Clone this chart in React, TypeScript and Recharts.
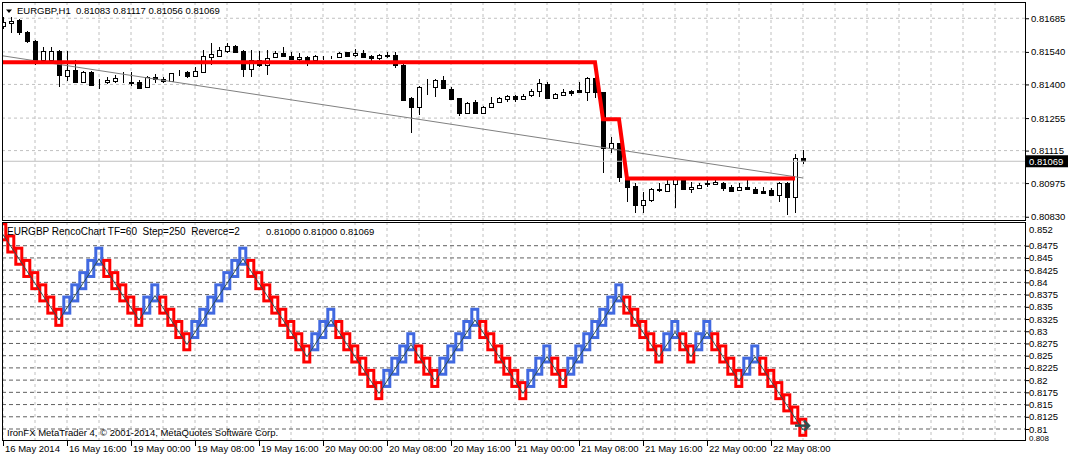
import React from "react";
import {
  ComposedChart,
  Bar,
  Line,
  XAxis,
  YAxis,
  CartesianGrid,
  ReferenceLine,
  ReferenceDot,
} from "recharts";

const FONT = "'Liberation Sans', Arial, sans-serif";
const RED = "#ff0000";
const BLUE = "#4169e1";
const ZIGZAG = "#2f4f4f";

// EURGBP H1 candles, bar 0 = 16 May 08:00
const opens = [
  0.81652, 0.81664, 0.81678, 0.81625, 0.81589, 0.81505, 0.81505, 0.81546, 0.81436, 0.81462,
  0.81412, 0.81455, 0.81413, 0.81409, 0.81416, 0.81427, 0.81412, 0.81412, 0.81388, 0.81431,
  0.81422, 0.81416, 0.81451, 0.81455, 0.81436, 0.81455, 0.8152, 0.81523, 0.81546, 0.81566,
  0.81544, 0.81465, 0.81505, 0.81484, 0.81517, 0.81534, 0.81523, 0.81508, 0.8152, 0.81505,
  0.81516, 0.81513, 0.81517, 0.81541, 0.81527, 0.81534, 0.81523, 0.81513, 0.81524, 0.81527,
  0.81484, 0.8134, 0.81302, 0.8139, 0.8139, 0.81419, 0.81379, 0.8134, 0.81278, 0.81326,
  0.81278, 0.81302, 0.81326, 0.81336, 0.8135, 0.81336, 0.81355, 0.81373, 0.81402, 0.8134,
  0.81355, 0.81373, 0.81376, 0.81369, 0.81428, 0.81367, 0.81125, 0.81146, 0.80991, 0.80962,
  0.8088, 0.80902, 0.80947, 0.80942, 0.80971, 0.80988, 0.80948, 0.80952, 0.80973, 0.80971,
  0.80977, 0.80957, 0.80945, 0.80957, 0.80948, 0.80942, 0.80945, 0.80924, 0.80977, 0.80914,
  0.81083,
];
const highs = [
  0.81691, 0.81692, 0.81681, 0.8163, 0.81592, 0.81563, 0.81563, 0.81549, 0.81546, 0.81505,
  0.81458, 0.81458, 0.81422, 0.81433, 0.81441, 0.81455, 0.81455, 0.81419, 0.81436, 0.81445,
  0.81433, 0.81449, 0.81462, 0.81459, 0.81477, 0.81549, 0.81577, 0.81563, 0.81577, 0.8157,
  0.81549, 0.81549, 0.81544, 0.81549, 0.81546, 0.81563, 0.81541, 0.81537, 0.81523, 0.81527,
  0.81523, 0.81521, 0.8154, 0.81541, 0.81551, 0.81549, 0.81527, 0.81531, 0.81541, 0.81541,
  0.81488, 0.81347, 0.81393, 0.81422, 0.81422, 0.81436, 0.81388, 0.81342, 0.81326, 0.81333,
  0.81307, 0.81347, 0.81347, 0.81355, 0.81355, 0.81359, 0.81379, 0.81422, 0.81412, 0.81362,
  0.81379, 0.81376, 0.81412, 0.81433, 0.81441, 0.81369, 0.81175, 0.81148, 0.80996, 0.80974,
  0.80938, 0.80952, 0.80975, 0.80988, 0.81002, 0.80991, 0.80981, 0.80975, 0.80988, 0.80988,
  0.80981, 0.80967, 0.80977, 0.80988, 0.80959, 0.80959, 0.80952, 0.80981, 0.80981, 0.811,
  0.81117,
];
const lows = [
  0.81639, 0.8162, 0.81613, 0.81577, 0.81484, 0.81498, 0.81498, 0.8139, 0.81416, 0.81405,
  0.81411, 0.81393, 0.81379, 0.81402, 0.81405, 0.81405, 0.81393, 0.81383, 0.81386, 0.81405,
  0.81408, 0.81415, 0.81436, 0.81427, 0.81433, 0.81454, 0.81484, 0.8152, 0.81534, 0.81534,
  0.81433, 0.81433, 0.81477, 0.81441, 0.81513, 0.8152, 0.81505, 0.81498, 0.8148, 0.81491,
  0.81505, 0.81508, 0.81514, 0.8152, 0.8152, 0.81513, 0.81502, 0.81505, 0.81515, 0.8147,
  0.81329, 0.81191, 0.81268, 0.81355, 0.81345, 0.81379, 0.81333, 0.81264, 0.81273, 0.81273,
  0.81276, 0.81297, 0.81321, 0.81326, 0.81326, 0.81333, 0.81347, 0.81347, 0.81339, 0.81336,
  0.8135, 0.8135, 0.81367, 0.8133, 0.8134, 0.81017, 0.81103, 0.80981, 0.80895, 0.80847,
  0.80845, 0.80895, 0.80936, 0.80938, 0.80866, 0.80945, 0.80931, 0.80949, 0.80959, 0.80967,
  0.80942, 0.80938, 0.80942, 0.80945, 0.80931, 0.80928, 0.80919, 0.80895, 0.80837, 0.80847,
  0.81056,
];
const closes = [
  0.81669, 0.81673, 0.81625, 0.81589, 0.81502, 0.81544, 0.81544, 0.81441, 0.81462, 0.81412,
  0.81455, 0.81398, 0.81415, 0.81419, 0.81429, 0.81428, 0.81405, 0.81386, 0.81433, 0.81422,
  0.81415, 0.81448, 0.81451, 0.81436, 0.81459, 0.81523, 0.8153, 0.81549, 0.81566, 0.81541,
  0.81465, 0.81505, 0.81484, 0.81513, 0.81534, 0.81523, 0.81508, 0.8152, 0.81505, 0.81523,
  0.81517, 0.81513, 0.81534, 0.81523, 0.81537, 0.8152, 0.81513, 0.81527, 0.81525, 0.81484,
  0.81333, 0.81302, 0.81388, 0.8139, 0.81419, 0.81383, 0.81337, 0.81278, 0.81321, 0.81278,
  0.81302, 0.81321, 0.8134, 0.8135, 0.81336, 0.8135, 0.81373, 0.81405, 0.8134, 0.81359,
  0.81369, 0.81364, 0.81369, 0.81427, 0.81367, 0.81125, 0.81146, 0.81, 0.80959, 0.8088,
  0.80902, 0.80948, 0.80948, 0.80971, 0.80991, 0.80948, 0.80957, 0.80967, 0.80974, 0.80981,
  0.80952, 0.80942, 0.80957, 0.80948, 0.80933, 0.80933, 0.80924, 0.80974, 0.80914, 0.81082,
  0.81069,
];

// thick red renko level line on the price chart
const signalLevels = [0.81495, 0.8125, 0.80995];
const signalFirstBar = [0, 75, 78];
const signalLastBar = [74, 77, 99];

// hand drawn trend line
const trendStart = { bar: 0, price: 0.81523 };
const trendEnd = { bar: 100, price: 0.80997 };

const lastPrice = 0.81069;

// renko bricks (top of each brick), 1 = up brick
const renkoTop = [
  0.8525, 0.85, 0.8475, 0.845, 0.8425, 0.84, 0.8375, 0.835, 0.8375, 0.84,
  0.8425, 0.845, 0.8475, 0.845, 0.8425, 0.84, 0.8375, 0.835, 0.8375, 0.84,
  0.8375, 0.835, 0.8325, 0.83, 0.8325, 0.835, 0.8375, 0.84, 0.8425, 0.845,
  0.8475, 0.845, 0.8425, 0.84, 0.8375, 0.835, 0.8325, 0.83, 0.8275, 0.83,
  0.8325, 0.835, 0.8325, 0.83, 0.8275, 0.825, 0.8225, 0.82, 0.8225, 0.825,
  0.8275, 0.83, 0.8275, 0.825, 0.8225, 0.825, 0.8275, 0.83, 0.8325, 0.835,
  0.8325, 0.83, 0.8275, 0.825, 0.8225, 0.82, 0.8225, 0.825, 0.8275, 0.825,
  0.8225, 0.825, 0.8275, 0.83, 0.8325, 0.835, 0.8375, 0.84, 0.8375, 0.835,
  0.8325, 0.83, 0.8275, 0.83, 0.8325, 0.83, 0.8275, 0.83, 0.8325, 0.83,
  0.8275, 0.825, 0.8225, 0.825, 0.8275, 0.825, 0.8225, 0.82, 0.8175, 0.815,
  0.8125,
];
const renkoUp = [
  0, 0, 0, 0, 0, 0, 0, 0, 1, 1,
  1, 1, 1, 0, 0, 0, 0, 0, 1, 1,
  0, 0, 0, 0, 1, 1, 1, 1, 1, 1,
  1, 0, 0, 0, 0, 0, 0, 0, 0, 1,
  1, 1, 0, 0, 0, 0, 0, 0, 1, 1,
  1, 1, 0, 0, 0, 1, 1, 1, 1, 1,
  0, 0, 0, 0, 0, 0, 1, 1, 1, 0,
  0, 1, 1, 1, 1, 1, 1, 1, 0, 0,
  0, 0, 0, 1, 1, 0, 0, 1, 1, 0,
  0, 0, 0, 1, 1, 0, 0, 0, 0, 0,
  0,
];
const renkoLine = [
  0.8498, 0.8473, 0.8448, 0.8423, 0.8398, 0.8373, 0.8348, 0.8323, 0.8348, 0.8373,
  0.8398, 0.8423, 0.8448, 0.8423, 0.8398, 0.8373, 0.8348, 0.8323, 0.8348, 0.8373,
  0.8348, 0.8323, 0.8298, 0.8273, 0.8298, 0.8323, 0.8348, 0.8373, 0.8398, 0.8423,
  0.8448, 0.8423, 0.8398, 0.8373, 0.8348, 0.8323, 0.8298, 0.8273, 0.8248, 0.8273,
  0.8298, 0.8323, 0.8298, 0.8273, 0.8248, 0.8223, 0.8198, 0.8173, 0.8198, 0.8223,
  0.8248, 0.8273, 0.8248, 0.8223, 0.8198, 0.8223, 0.8248, 0.8273, 0.8298, 0.8323,
  0.8298, 0.8273, 0.8248, 0.8223, 0.8198, 0.8173, 0.8198, 0.8223, 0.8248, 0.8223,
  0.8198, 0.8223, 0.8248, 0.8273, 0.8298, 0.8323, 0.8348, 0.8373, 0.8348, 0.8323,
  0.8298, 0.8273, 0.8248, 0.8273, 0.8298, 0.8273, 0.8248, 0.8273, 0.8298, 0.8273,
  0.8248, 0.8223, 0.8198, 0.8223, 0.8248, 0.8223, 0.8198, 0.8173, 0.8148, 0.8123,
  0.8098,
];

const priceTicks = [0.8083, 0.80975, 0.81115, 0.81255, 0.814, 0.8154, 0.81685];
const renkoTicks = [
  0.8475, 0.845, 0.8425, 0.84, 0.8375, 0.835, 0.8325, 0.83, 0.8275, 0.825,
  0.8225, 0.82, 0.8175, 0.815, 0.8125, 0.81,
];
const renkoTickLabels = [
  "0.8475", "0.845", "0.8425", "0.84", "0.8375", "0.835", "0.8325", "0.83", "0.8275", "0.825",
  "0.8225", "0.82", "0.8175", "0.815", "0.8125", "0.81",
];
const timeBars = [0, 8, 16, 24, 32, 40, 48, 56, 64, 72, 80, 88, 96];
const timeLabels = [
  "16 May 2014", "16 May 16:00", "19 May 00:00", "19 May 08:00", "19 May 16:00",
  "20 May 00:00", "20 May 08:00", "20 May 16:00", "21 May 00:00", "21 May 08:00",
  "21 May 16:00", "22 May 00:00", "22 May 08:00",
];
const gridBars = [
  0, 4, 8, 12, 16, 20, 24, 28, 32, 36, 40, 44, 48, 52, 56, 60, 64, 68, 72, 76, 80,
  84, 88, 92, 96, 100, 104, 108, 112, 116, 120, 124,
];

const rows = opens.map((o, i) => {
  let sig: number | null = null;
  signalLevels.forEach((lv, j) => {
    if (i >= signalFirstBar[j] && i <= signalLastBar[j]) sig = lv;
  });
  return {
    i,
    o,
    h: highs[i],
    l: lows[i],
    c: closes[i],
    range: [lows[i], highs[i]],
    sig,
    brick: [renkoTop[i] - 0.0041, renkoTop[i] - 0.0002],
    up: renkoUp[i] === 1,
    zz: renkoLine[i],
  };
});

const X_DOMAIN: [number, number] = [-0.125, 127.75];

function Candle(props: any) {
  const { x, y, width, height, payload } = props;
  const cx = Math.round(x + width / 2);
  const { o, h, l, c } = payload;
  const k = h > l ? height / (h - l) : 0;
  const yo = y + (h - o) * k;
  const yc = y + (h - c) * k;
  const top = Math.round(Math.min(yo, yc)) + 0.5;
  const bot = Math.round(Math.max(yo, yc)) + 0.5;
  return (
    <g shapeRendering="crispEdges">
      <line x1={cx + 0.5} x2={cx + 0.5} y1={y} y2={y + height} stroke="#000" />
      <rect
        x={cx - 1.5}
        y={top}
        width={4}
        height={Math.max(bot - top, 0)}
        fill={c >= o ? "#fff" : "#000"}
        stroke="#000"
      />
    </g>
  );
}

function Brick(props: any) {
  const { x, y, width, height, payload } = props;
  const cx = x + width / 2;
  return (
    <rect
      x={cx - 3}
      y={y + 1.5}
      width={6}
      height={Math.max(height - 3, 0)}
      fill="none"
      stroke={payload.up ? BLUE : RED}
      strokeWidth={3}
    />
  );
}

function Arrow(props: any) {
  const { cx, cy } = props;
  return (
    <g stroke={ZIGZAG} strokeWidth={2.5} fill="none">
      <line x1={cx - 8} x2={cx + 6} y1={cy} y2={cy} />
      <polyline points={`${cx + 1},${cy - 5} ${cx + 6},${cy} ${cx + 1},${cy + 5}`} />
    </g>
  );
}

function PriceTick(props: any) {
  const { y, payload } = props;
  const v = payload.value;
  if (v === lastPrice) {
    return (
      <g>
        <rect x={1026} y={y - 6} width={42} height={12} fill="#000" />
        <text x={1029} y={y + 3.5} fill="#fff" fontSize={9.5} fontFamily={FONT}>
          {v.toFixed(5)}
        </text>
      </g>
    );
  }
  return (
    <g>
      <line x1={1025} x2={1029} y1={y + 0.5} y2={y + 0.5} stroke="#000" />
      <text x={1031} y={y + 3.5} fill="#000" fontSize={9.5} fontFamily={FONT}>
        {v.toFixed(5)}
      </text>
    </g>
  );
}

function RenkoTick(props: any) {
  const { y, payload } = props;
  const idx = renkoTicks.indexOf(payload.value);
  return (
    <g>
      <line x1={1025} x2={1029} y1={y + 0.5} y2={y + 0.5} stroke="#000" />
      <text x={1029} y={y + 3.5} fill="#000" fontSize={9.5} fontFamily={FONT}>
        {renkoTickLabels[idx]}
      </text>
    </g>
  );
}

function TimeTick(props: any) {
  const { x, payload } = props;
  const idx = timeBars.indexOf(payload.value);
  if (idx < 0) return <g />;
  const px = Math.round(x);
  return (
    <g>
      <line x1={px + 0.5} x2={px + 0.5} y1={218} y2={224} stroke="#000" />
      <text x={px + 2} y={230} fill="#000" fontSize={9.5} fontFamily={FONT}>
        {timeLabels[idx]}
      </text>
    </g>
  );
}

function PriceChart() {
  return (
    <ComposedChart
      width={1068}
      height={222}
      data={rows}
      margin={{ top: 2, right: 0, bottom: 2, left: 2 }}
    >
      <CartesianGrid
        stroke="#c0c0c0"
        strokeDasharray="3 3"
        horizontalValues={priceTicks}
        verticalValues={gridBars}
      />
      <XAxis
        type="number"
        dataKey="i"
        domain={X_DOMAIN}
        allowDataOverflow
        ticks={gridBars}
        hide
      />
      <YAxis
        orientation="right"
        width={43}
        domain={[0.80816, 0.81755]}
        allowDataOverflow
        ticks={[...priceTicks, lastPrice]}
        interval={0}
        tick={PriceTick}
        tickLine={false}
        axisLine={false}
      />
      <ReferenceLine y={lastPrice} stroke="#c0c0c0" />
      <Bar dataKey="range" shape={Candle} isAnimationActive={false} />
      <ReferenceLine
        segment={[
          { x: trendStart.bar, y: trendStart.price },
          { x: trendEnd.bar, y: trendEnd.price },
        ]}
        stroke="#808080"
      />
      <Line
        dataKey="sig"
        stroke={RED}
        strokeWidth={4}
        dot={false}
        activeDot={false}
        isAnimationActive={false}
      />
    </ComposedChart>
  );
}

function RenkoChart() {
  return (
    <ComposedChart
      width={1068}
      height={236}
      data={rows}
      margin={{ top: 0, right: 0, bottom: 0, left: 2 }}
    >
      <CartesianGrid
        stroke="#c0c0c0"
        strokeDasharray="3 3"
        horizontal={false}
        verticalValues={gridBars}
      />
      <CartesianGrid
        stroke="#606060"
        strokeDasharray="4 3"
        vertical={false}
        horizontalValues={renkoTicks}
      />
      <XAxis
        type="number"
        dataKey="i"
        domain={X_DOMAIN}
        allowDataOverflow
        ticks={gridBars}
        interval={0}
        height={18}
        tick={TimeTick}
        tickLine={false}
        axisLine={false}
      />
      <YAxis
        orientation="right"
        width={43}
        domain={[0.80775, 0.85235]}
        allowDataOverflow
        ticks={renkoTicks}
        interval={0}
        tick={RenkoTick}
        tickLine={false}
        axisLine={false}
      />
      <Bar dataKey="brick" shape={Brick} isAnimationActive={false} />
      <Line
        dataKey="zz"
        stroke={ZIGZAG}
        strokeWidth={1}
        dot={false}
        activeDot={false}
        isAnimationActive={false}
      />
      <ReferenceDot x={100} y={lastPrice} r={0} shape={Arrow} />
    </ComposedChart>
  );
}

export default function App() {
  return (
    <div
      style={{
        position: "absolute",
        left: 0,
        top: 0,
        width: 1068,
        height: 458,
        background: "#fff",
        overflow: "hidden",
        fontFamily: FONT,
      }}
    >
      <div style={{ position: "absolute", left: 0, top: 222 }}>
        <RenkoChart />
      </div>
      <div style={{ position: "absolute", left: 0, top: 0 }}>
        <PriceChart />
      </div>
      <svg
        width={1068}
        height={458}
        style={{ position: "absolute", left: 0, top: 0, pointerEvents: "none" }}
      >
        <g fill="none" stroke="#000" shapeRendering="crispEdges">
          <rect x={2.5} y={2.5} width={1023} height={218} />
          <rect x={2.5} y={222.5} width={1023} height={218} />
        </g>
        <polygon points="6,9.5 12,9.5 9,13" fill="#000" />
        <text x={17} y={14} fontSize={9.5} fontFamily={FONT} fill="#000" xmlSpace="preserve">
          EURGBP,H1  0.81083 0.81117 0.81056 0.81069
        </text>
        <text x={7} y={235} fontSize={10} fontFamily={FONT} fill="#000" xmlSpace="preserve">
          EURGBP RencoChart TF=60  Step=250  Reverce=2
        </text>
        <text x={266} y={235} fontSize={9.5} fontFamily={FONT} fill="#000">
          0.81000 0.81000 0.81069
        </text>
        <text x={1029} y={233} fontSize={9.5} fontFamily={FONT} fill="#000">
          0.852
        </text>
        <text x={1029} y={441} fontSize={8} fontFamily={FONT} fill="#000">
          0.808
        </text>
        <text x={7} y={436} fontSize={9.5} fontFamily={FONT} fill="#000">
          IronFX MetaTrader 4, © 2001-2014, MetaQuotes Software Corp.
        </text>
      </svg>
    </div>
  );
}
